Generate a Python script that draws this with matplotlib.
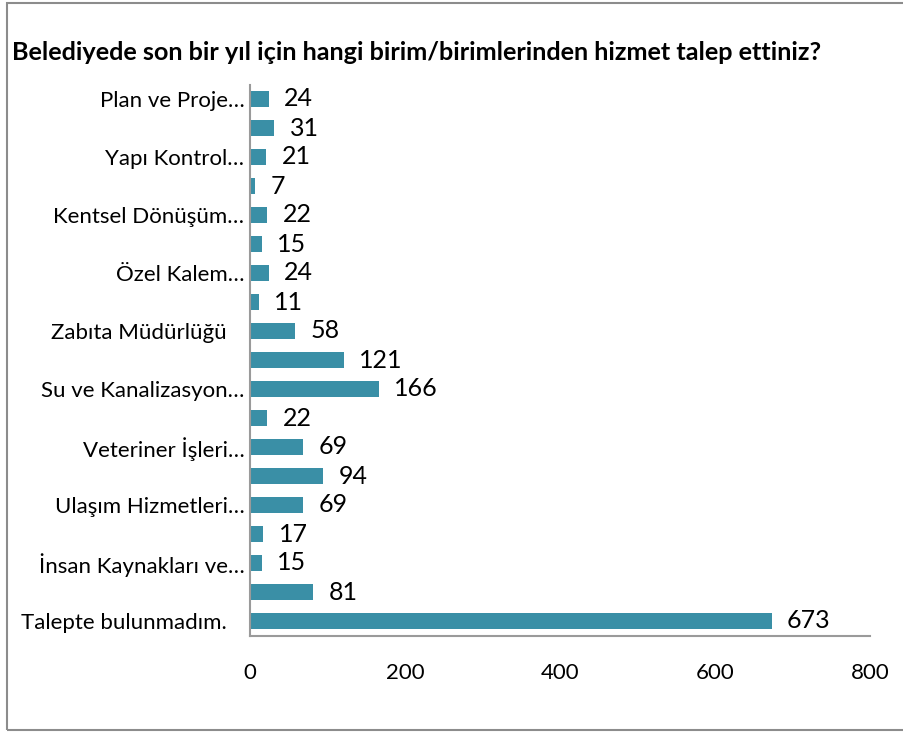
import numpy as np
import matplotlib.pyplot as plt
import matplotlib.patches as mpatches
import matplotlib.transforms as mtransforms

plt.rcParams['font.family'] = ['Lato', 'DejaVu Sans']

categories = ['Plan ve Proje…', '', 'Yapı Kontrol…', '', 'Kentsel Dönüşüm…', '',
              'Özel Kalem…', '', 'Zabıta Müdürlüğü', '', 'Su ve Kanalizasyon…', '',
              'Veteriner İşleri…', '', 'Ulaşım Hizmetleri…', '', 'İnsan Kaynakları ve…', '',
              'Talepte bulunmadım.']
values = [24, 31, 21, 7, 22, 15, 24, 11, 58, 121, 166, 22, 69, 94, 69, 17, 15, 81, 673]
xticks = [0, 200, 400, 600, 800]

bar_color = '#3A8FA6'
axis_color = '#9a9a9a'

fig = plt.figure(figsize=(9.04, 7.32), dpi=100)
ax = fig.add_axes([250 / 904, 1 - 635.5 / 732, 620 / 904, 551 / 732])

y = np.arange(len(values))
ax.barh(y, values, height=0.56, color=bar_color)

for yi, v in zip(y, values):
    ax.text(v + 20, yi, str(v), va='center', ha='left', fontsize=18)

ax.set_ylim(len(values) - 0.5, -0.5)
ax.set_xlim(0, 800)
ax.set_yticks(y)
ax.set_yticklabels(categories, fontsize=16)
ax.set_xticks(xticks)
ax.set_xticklabels([str(t) for t in xticks], fontsize=16)
ax.tick_params(axis='both', length=0)
ax.tick_params(axis='x', pad=20)
ax.tick_params(axis='y', pad=4)

# the untruncated labels sit a bit further left (trailing space in the source)
shift = mtransforms.ScaledTranslation(-0.18, 0, fig.dpi_scale_trans)
for lab in ax.get_yticklabels():
    if lab.get_text() in ('Zabıta Müdürlüğü', 'Talepte bulunmadım.'):
        lab.set_transform(lab.get_transform() + shift)

for side in ['top', 'right']:
    ax.spines[side].set_visible(False)
for side in ['left', 'bottom']:
    ax.spines[side].set_color(axis_color)
    ax.spines[side].set_linewidth(1.5)

fig.text(12 / 904, 1 - 53 / 732, 'Belediyede son bir yıl için hangi birim/birimlerinden hizmet talep ettiniz?',
         fontsize=18.2, fontweight='bold', ha='left', va='center')

# chart area border
border = mpatches.Rectangle((7 / 904, 2 / 732), 1.0, 727 / 732, transform=fig.transFigure,
                            fill=False, edgecolor='#8c8c8c', lw=1.5)
fig.patches.append(border)

fig.savefig('out.png', dpi=100)
